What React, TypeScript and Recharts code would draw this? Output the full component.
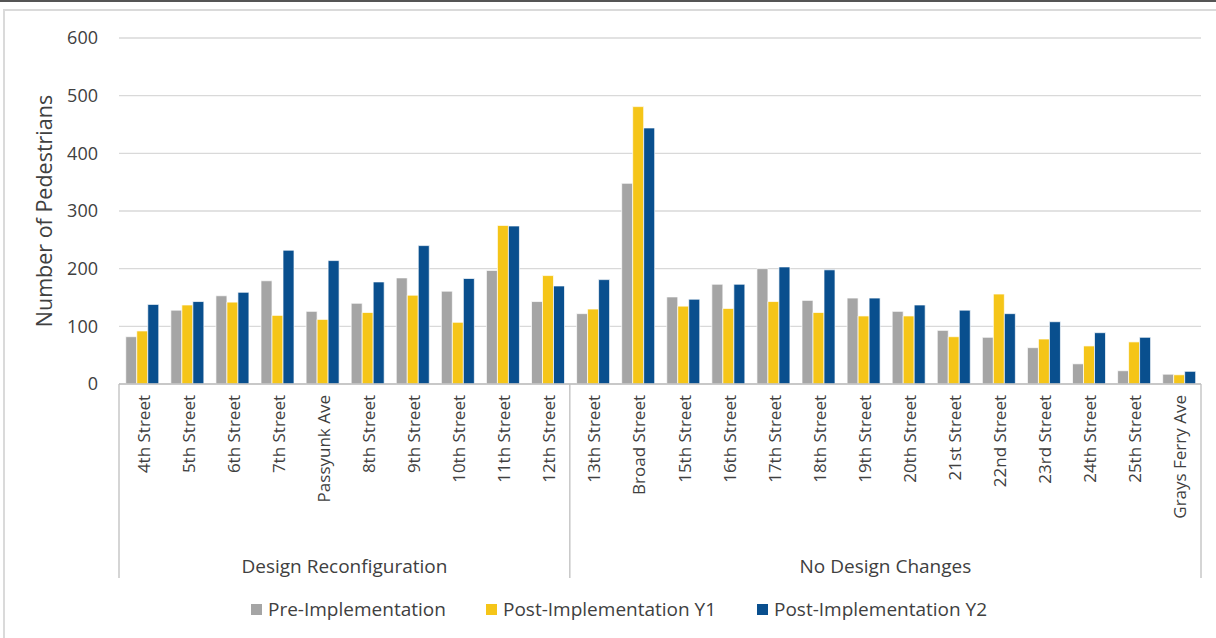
import React from "react";
import { BarChart, Bar, XAxis, YAxis, CartesianGrid, Legend } from "recharts";

const categories = [
  "4th Street",
  "5th Street",
  "6th Street",
  "7th Street",
  "Passyunk Ave",
  "8th Street",
  "9th Street",
  "10th Street",
  "11th Street",
  "12th Street",
  "13th Street",
  "Broad Street",
  "15th Street",
  "16th Street",
  "17th Street",
  "18th Street",
  "19th Street",
  "20th Street",
  "21st Street",
  "22nd Street",
  "23rd Street",
  "24th Street",
  "25th Street",
  "Grays Ferry Ave",
];

const groupNames = ["Design Reconfiguration", "No Design Changes"];
const groupSizes = [10, 14];

const preImplementation = [82, 128, 153, 179, 126, 140, 184, 161, 197, 143, 122, 348, 151, 173, 200, 145, 149, 126, 93, 81, 63, 35, 23, 17];
const postImplementationY1 = [92, 137, 142, 119, 112, 124, 154, 107, 275, 188, 130, 481, 135, 131, 143, 124, 118, 118, 82, 156, 78, 66, 73, 16];
const postImplementationY2 = [138, 143, 159, 232, 214, 177, 240, 183, 274, 170, 181, 444, 147, 173, 203, 198, 149, 137, 128, 122, 108, 89, 81, 22];

const yTicks = [0, 100, 200, 300, 400, 500, 600];

const seriesNames = ["Pre-Implementation", "Post-Implementation Y1", "Post-Implementation Y2"];
const seriesColors = ["#A5A5A5", "#F5C518", "#094F8E"];
// where each legend swatch starts
const legendLeft = [251, 486, 757];

const FONT = "'Open Sans', 'Noto Sans', sans-serif";
const TEXT = "#404040";
const LINE = "#BFBFBF";

const data = categories.map((name, i) => ({
  name,
  pre: preImplementation[i],
  y1: postImplementationY1[i],
  y2: postImplementationY2[i],
}));

// start index of every group
const groupStarts = groupSizes.map((_, g) => groupSizes.slice(0, g).reduce((a, b) => a + b, 0));

const CategoryTick = (props: any) => {
  const { x, y, payload, index } = props;
  const bw = payload && payload.offset ? payload.offset * 2 : 1082 / categories.length;
  const g = groupStarts.indexOf(index);
  const isLast = index === categories.length - 1;
  return (
    <g>
      <text
        transform={`translate(${x + 8},${y + 11}) rotate(-90)`}
        textAnchor='end'
        fontSize={17}
        fontFamily={FONT}
        fill={TEXT}>
        {payload.value}
      </text>
      {g >= 0 && (
        <>
          <line
            x1={x - bw / 2}
            x2={x - bw / 2}
            y1={y}
            y2={y + 194}
            stroke={LINE}
            strokeWidth={1.3}
          />
          <text
            x={x + ((groupSizes[g] - 1) * bw) / 2}
            y={y + 189}
            textAnchor='middle'
            fontSize={19}
            fontFamily={FONT}
            fill={TEXT}>
            {groupNames[g]}
          </text>
        </>
      )}
      {isLast && (
        <line
          x1={x + bw / 2}
          x2={x + bw / 2}
          y1={y}
          y2={y + 194}
          stroke={LINE}
          strokeWidth={1.3}
        />
      )}
    </g>
  );
};

const LegendContent = () => (
  <div style={{ position: "relative", height: 26, fontFamily: FONT, fontSize: 19, color: TEXT }}>
    {seriesNames.map((name, i) => (
      <div
        key={name}
        style={{ position: "absolute", left: legendLeft[i], top: 0, height: 26, display: "flex", alignItems: "center", whiteSpace: "nowrap" }}>
        <span style={{ width: 11, height: 11, background: seriesColors[i], marginRight: 6, display: "inline-block" }} />
        <span>{name}</span>
      </div>
    ))}
  </div>
);

const App: React.FC = () => {
  return (
    <div style={{ position: "absolute", left: 0, top: 0, width: 1216, height: 638, background: "#fff", overflow: "hidden" }}>
      <div style={{ position: "absolute", left: 0, top: 0, width: 1216, height: 2, background: "#555" }} />
      <div
        style={{
          position: "absolute",
          left: 3,
          top: 9,
          width: 1216,
          height: 640,
          borderLeft: "2px solid #DADADA",
          borderTop: "2px solid #DADADA",
        }}
      />
      <BarChart
        width={1216}
        height={638}
        data={data}
        margin={{ top: 38, right: 15, left: 0, bottom: 0 }}
        barCategoryGap='15%'
        barGap={0}>
        <CartesianGrid
          vertical={false}
          stroke='#D9D9D9'
          strokeWidth={1.3}
        />
        <XAxis
          dataKey='name'
          height={254}
          interval={0}
          tickLine={false}
          tickSize={0}
          tickMargin={0}
          axisLine={{ stroke: LINE, strokeWidth: 1.3 }}
          tick={<CategoryTick />}
        />
        <YAxis
          width={119}
          domain={[0, 600]}
          ticks={yTicks}
          axisLine={false}
          tickLine={false}
          tickSize={0}
          tickMargin={21}
          tick={{ fontSize: 18, fill: TEXT, fontFamily: FONT }}
          label={{
            content: (p: any) => {
              const vb = p.viewBox || { x: 0, y: 38, width: 119, height: 346 };
              const cx = vb.x + 52;
              const cy = vb.y + vb.height / 2;
              return (
                <text
                  transform={`translate(${cx},${cy}) rotate(-90)`}
                  textAnchor='middle'
                  fontSize={21.5}
                  fontFamily={FONT}
                  fill={TEXT}>
                  Number of Pedestrians
                </text>
              );
            },
          }}
        />
        <Legend
          layout='horizontal'
          verticalAlign='middle'
          align='center'
          wrapperStyle={{ top: 596, left: 0, width: 1216 }}
          content={<LegendContent />}
        />
        <Bar
          dataKey='pre'
          name={seriesNames[0]}
          fill={seriesColors[0]}
          stroke='#fff'
          strokeWidth={0.7}
          isAnimationActive={false}
        />
        <Bar
          dataKey='y1'
          name={seriesNames[1]}
          fill={seriesColors[1]}
          stroke='#fff'
          strokeWidth={0.7}
          isAnimationActive={false}
        />
        <Bar
          dataKey='y2'
          name={seriesNames[2]}
          fill={seriesColors[2]}
          stroke='#fff'
          strokeWidth={0.7}
          isAnimationActive={false}
        />
      </BarChart>
    </div>
  );
};

export default App;
